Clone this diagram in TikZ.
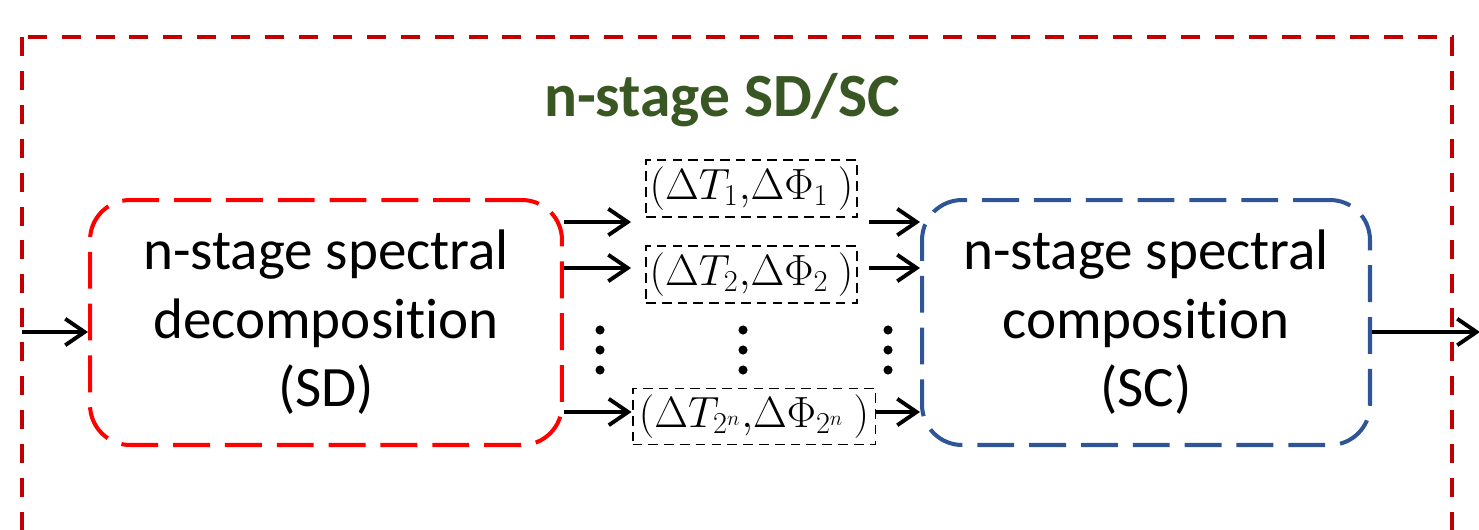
\documentclass[tikz,border=0pt]{standalone}
\usepackage{fontspec}
\setmainfont{Carlito}[Ligatures=NoCommon]
\usepackage{xcolor}
\usepackage{tikz}
\usetikzlibrary{positioning, arrows.meta}
\definecolor{framered}{HTML}{C00000}
\definecolor{sdred}{HTML}{FF0000}
\definecolor{scblue}{HTML}{2F5597}
\definecolor{titlegreen}{HTML}{385723}

\tikzset{
  stagebox/.style={draw, rounded corners=0.8cm, line width=2.3pt,
    dash pattern=on 21pt off 8.5pt, minimum height=4.9cm, align=center,
    font=\fontsize{32.5}{39}\selectfont},
  pairbox/.style={draw, line width=1.1pt, dash pattern=on 5.5pt off 3.5pt,
    minimum height=1.14cm, inner sep=1pt, font=\fontsize{24}{28}\selectfont},
  arr/.style={line width=2.2pt, -{Straight Barb[length=11pt,width=15pt]}}
}

\begin{document}
\begin{tikzpicture}[x=0.02cm, y=-0.02cm]
    \useasboundingbox (0,0) rectangle (1479,530);
    \clip (0,0) rectangle (1479,530);

    % outer frame
    \draw[framered, line width=2.8pt, dash pattern=on 10.8pt off 8.5pt]
      (22,37) rectangle (1452,620);
    \node[text=titlegreen, font=\fontsize{35}{40}\selectfont\bfseries] (title)
      at (722,100) {n-stage SD/SC};

    % decomposition and composition
    \node[stagebox, sdred, text=black, minimum width=9.44cm] (sd) at (326,322.5)
      {n-stage spectral\\decomposition\\(SD)};
    \node[stagebox, scblue, text=black, minimum width=8.96cm] (sc) at (1146,322.5)
      {n-stage spectral\\composition\\(SC)};

    % delay/phase pairs
    \node[pairbox, minimum width=4.22cm] (d1) at (751.5,188.5)
      {$(\Delta T_1{,}\Delta\Phi_1\ )$};
    \node[pairbox, minimum width=4.22cm] (d2) at (751.5,274.5)
      {$(\Delta T_2{,}\Delta\Phi_2\ )$};
    \node[pairbox, minimum width=4.86cm, minimum height=1.12cm] (dn) at (754,416.5)
      {$(\Delta T_{2^n}{,}\Delta\Phi_{2^n}\ )$};

    \foreach \x in {600,743,888}
      \foreach \y in {330,350,370}
        \fill (\x,\y) circle (2.6pt);

    % connectors
    \coordinate (r1) at (0,222);
    \coordinate (r2) at (0,268);
    \coordinate (rn) at (0,412);
    \coordinate (in) at (22,332);
    \coordinate (out) at (1480,332);

    \draw[arr] (in) -- (sd.west |- in);
    \draw[arr, shorten >=0.28cm] (sd.east |- r1) -- (d1.west |- r1);
    \draw[arr, shorten >=0.28cm] (sd.east |- r2) -- (d2.west |- r2);
    \draw[arr] (sd.east |- rn) -- (dn.west |- rn);
    \draw[arr, shorten <=0.22cm] (d1.east |- r1) -- (sc.west |- r1);
    \draw[arr, shorten <=0.22cm] (d2.east |- r2) -- (sc.west |- r2);
    \draw[arr] (dn.east |- rn) -- (sc.west |- rn);
    \draw[arr] (sc.east |- out) -- (out);
\end{tikzpicture}
\end{document}
